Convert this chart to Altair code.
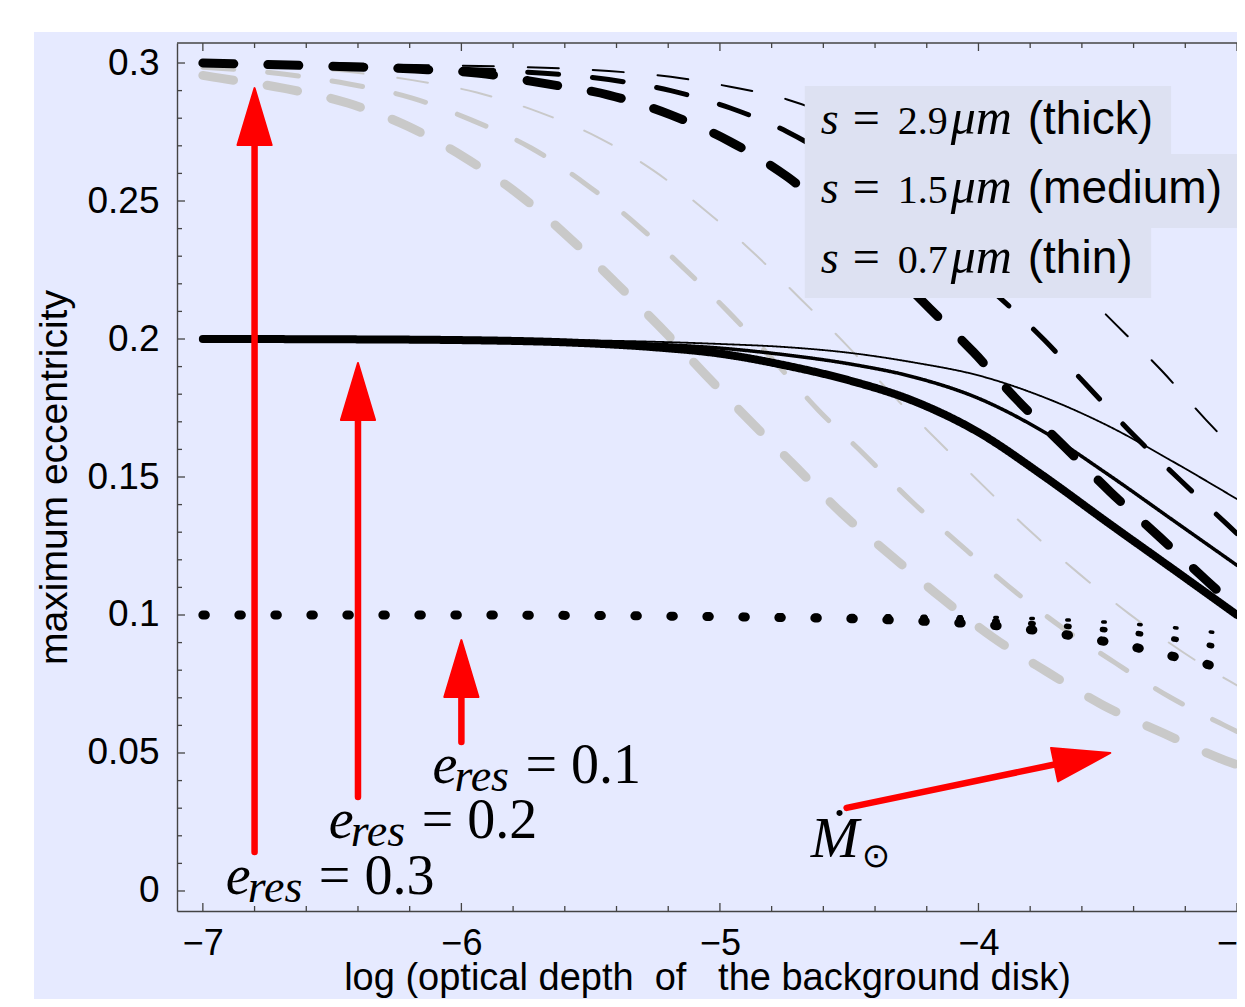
import math
import altair as alt
import pandas as pd

# ---------------- layout / style constants ----------------
W, H = 1060, 868
X_DOMAIN = [-7.1, -3.0]
Y_DOMAIN = [-0.00725, 0.30725]
BG = "#e6eaff"
BOX = "#dde1f2"
GRAY = "#c9c9c9"
RED = "#ff0000"
AXC = "#444444"
SANS = "Liberation Sans"
SERIF = "Liberation Serif"

# ---------------- data ----------------
# e_res = 0.3, black dashed (thick / medium / thin)
bd_thick_x = [-7.0, -6.5, -6.18, -5.93, -5.68, -5.43, -5.19, -4.96, -4.74, -4.5, -4.19, -4.02, -3.85, -3.67, -3.49, -3.30, -3.12, -3.0]
bd_thick_y = [0.3000, 0.2988, 0.2978, 0.2963, 0.2926, 0.2884, 0.2812, 0.2715, 0.2588, 0.2400, 0.2112, 0.1953, 0.1779, 0.1612, 0.1446, 0.1283, 0.1127, 0.1025]
bd_med_x = [-7.0, -6.5, -6.18, -5.93, -5.68, -5.43, -5.19, -4.96, -4.74, -4.5, -4.25, -4.0, -3.745, -3.575, -3.40, -3.22, -3.04, -3.0]
bd_med_y = [0.3000, 0.2995, 0.2985, 0.2975, 0.2963, 0.2940, 0.2900, 0.2837, 0.2751, 0.2616, 0.2430, 0.2220, 0.1996, 0.1826, 0.1652, 0.1489, 0.1330, 0.1295]
bd_thin_x = [-7.0, -6.5, -6.18, -5.93, -5.68, -5.43, -5.19, -4.96, -4.74, -4.5, -4.25, -4.0, -3.75, -3.47, -3.29, -3.12, -3.0]
bd_thin_y = [0.3000, 0.2997, 0.2993, 0.2989, 0.2983, 0.2971, 0.2950, 0.2914, 0.2868, 0.2780, 0.2650, 0.2500, 0.2310, 0.2054, 0.1884, 0.1707, 0.1590]

# e_res = 0.2, black solid
bs_x = [-7.0, -6.5, -6.0, -5.5, -5.25, -5.0, -4.75, -4.5, -4.25, -4.0, -3.75, -3.5, -3.25, -3.0]
bs_thick_y = [0.2000, 0.1999, 0.1996, 0.1984, 0.1970, 0.1947, 0.1905, 0.1850, 0.1775, 0.1662, 0.1505, 0.1335, 0.1168, 0.1000]
bs_med_y = [0.2000, 0.2000, 0.1998, 0.1990, 0.1981, 0.1967, 0.1943, 0.1910, 0.1862, 0.1785, 0.1665, 0.1510, 0.1345, 0.1180]
bs_thin_y = [0.2000, 0.2000, 0.1999, 0.1995, 0.1990, 0.1982, 0.1971, 0.1950, 0.1915, 0.1868, 0.1790, 0.1686, 0.1557, 0.1420]

# e_res = 0.1, black dotted
bo_large_x = [-7.0, -6.0, -5.5, -5.0, -4.78, -4.5, -4.36, -4.23, -4.09, -3.95, -3.81, -3.68, -3.54, -3.40, -3.27, -3.135, -3.0]
bo_large_y = [0.1000, 0.1000, 0.0998, 0.0994, 0.0991, 0.0987, 0.0983, 0.0978, 0.0972, 0.0963, 0.0948, 0.0931, 0.0909, 0.0884, 0.0855, 0.0826, 0.0788]
bo_med_x = [-7.0, -5.0, -4.5, -4.09, -3.95, -3.81, -3.68, -3.54, -3.40, -3.27, -3.135, -3.0]
bo_med_y = [0.1000, 0.0998, 0.0994, 0.0986, 0.0978, 0.0970, 0.0961, 0.0949, 0.0935, 0.0917, 0.0895, 0.0872]
bo_small_x = [-7.0, -4.5, -4.09, -3.81, -3.68, -3.54, -3.40, -3.27, -3.135, -3.0]
bo_small_y = [0.1000, 0.0998, 0.0994, 0.0988, 0.0983, 0.0976, 0.0967, 0.0957, 0.0942, 0.0927]

# gray dashed (thick / medium / thin)
gd_thick_x = [-7.0, -6.94, -6.69, -6.44, -6.21, -5.99, -5.78, -5.59, -5.41, -5.235, -5.058, -4.884, -4.71, -4.53, -4.34, -4.147, -3.946, -3.733, -3.52, -3.285, -3.07, -3.0]
gd_thick_y = [0.2955, 0.2946, 0.2909, 0.2855, 0.2772, 0.2659, 0.2525, 0.2373, 0.2210, 0.2047, 0.1873, 0.1703, 0.1540, 0.1370, 0.1217, 0.1065, 0.0920, 0.0793, 0.0674, 0.0572, 0.0482, 0.0457]
gd_med_x = [-7.0, -6.69, -6.44, -6.19, -5.96, -5.73, -5.52, -5.32, -5.14, -4.97, -4.79, -4.62, -4.44, -4.26, -4.07, -3.88, -3.68, -3.47, -3.26, -3.05, -3.0]
gd_med_y = [0.2985, 0.2960, 0.2925, 0.2873, 0.2793, 0.2692, 0.2562, 0.2413, 0.2257, 0.2101, 0.1920, 0.1743, 0.1580, 0.1413, 0.1254, 0.1101, 0.0957, 0.0826, 0.0703, 0.0601, 0.0578]
gd_thin_x = [-7.0, -6.69, -6.44, -6.19, -5.94, -5.70, -5.47, -5.255, -5.054, -4.865, -4.69, -4.51, -4.336, -4.16, -3.98, -3.80, -3.61, -3.417, -3.21, -3.03, -3.0]
gd_thin_y = [0.2995, 0.2985, 0.2968, 0.2938, 0.2893, 0.2822, 0.2730, 0.2609, 0.2464, 0.2308, 0.2147, 0.1978, 0.1801, 0.1634, 0.1467, 0.1304, 0.1149, 0.1004, 0.0866, 0.0761, 0.0745]

# axes ticks / labels
x_major = [-7, -6, -5, -4, -3]
x_minor = [-6.8, -6.6, -6.4, -6.2, -5.8, -5.6, -5.4, -5.2, -4.8, -4.6, -4.4, -4.2, -3.8, -3.6, -3.4, -3.2]
y_major = [0.0, 0.05, 0.1, 0.15, 0.2, 0.25, 0.3]
y_minor = [0.01, 0.02, 0.03, 0.04, 0.06, 0.07, 0.08, 0.09, 0.11, 0.12, 0.13, 0.14,
           0.16, 0.17, 0.18, 0.19, 0.21, 0.22, 0.23, 0.24, 0.26, 0.27, 0.28, 0.29]
x_title = "log (optical depth\u00a0\u00a0of\u00a0\u00a0\u00a0the background disk)"
y_title = "maximum eccentricity"

# legend (size key) boxes and texts
leg_x0 = [-4.672, -4.672, -4.672]
leg_x1 = [-3.255, -3.0, -3.332]
leg_ytop = [0.2917, 0.2670, 0.2402]
leg_ybot = [0.2670, 0.2402, 0.2149]
leg_anchor_x = [-4.610, -4.610, -4.610]
leg_anchor_y = [0.2743, 0.2493, 0.2239]
leg_sizes = ["2.9", "1.5", "0.7"]
leg_words = ["(thick)", "(medium)", "(thin)"]

# e_res labels
eres_x = [-6.911, -6.5135, -6.112]
eres_y = [-0.0011, 0.0192, 0.0391]
eres_val = ["0.3", "0.2", "0.1"]

# M_sun label
msun_x = [-4.649]
msun_y = [0.0123]

# red arrows: start, shaft end, tip
arr_x0 = [-6.8, -6.4, -6.0, -4.510]
arr_y0 = [0.0141, 0.0341, 0.0540, 0.0301]
arr_xs = [-6.8, -6.4, -6.0, -3.641]
arr_ys = [0.2750, 0.1760, 0.0750, 0.0471]
arr_xt = [-6.8, -6.4, -6.0, -3.490]
arr_yt = [0.2909, 0.1913, 0.0909, 0.0500]

# ---------------- chart ----------------
xs = alt.Scale(domain=X_DOMAIN, nice=False, zero=False)
ys = alt.Scale(domain=Y_DOMAIN, nice=False, zero=False)

AX = alt.Axis(values=x_major, format="d", ticks=False, grid=False, domainColor=AXC, domainWidth=1.4,
              labelFont=SANS, labelFontSize=36, labelColor="black", labelPadding=15,
              labelFlush=False, labelOverlap=False, labelBound=False,
              title=x_title, titleFont=SANS, titleFontSize=38, titleFontWeight="normal",
              titleColor="black", titlePadding=-2, zindex=1)
AY = alt.Axis(values=y_major, format=".2~f", ticks=False, grid=False, domainColor=AXC, domainWidth=1.4,
              labelFont=SANS, labelFontSize=37, labelColor="black", labelPadding=18,
              labelFlush=False, labelOverlap=False, labelBound=False,
              title=y_title, titleFont=SANS, titleFontSize=39, titleFontWeight="normal",
              titleColor="black", titlePadding=12, zindex=1)


def X(f="x"):
    return alt.X(f"{f}:Q", scale=xs, axis=AX)


def Y(f="y"):
    return alt.Y(f"{f}:Q", scale=ys, axis=AY)


one = pd.DataFrame({"k": [0]})
layers = []

# lavender page background
layers.append(alt.Chart(one).mark_rect(color=BG).encode(
    x=alt.value(-143), x2=alt.value(W + 60), y=alt.value(-11), y2=alt.value(H + 120)))


def curve(xv, yv, color, width, dash):
    df = pd.DataFrame({"x": xv, "y": yv})
    return alt.Chart(df).mark_line(color=color, strokeWidth=width, strokeDash=dash,
                                   strokeCap="round", strokeJoin="round",
                                   interpolate="monotone").encode(x=X(), y=Y())


DASH = [31, 34]
DOT = [2.5, 33.5]
# gray dashed
layers.append(curve(gd_thick_x, gd_thick_y, GRAY, 9, DASH))
layers.append(curve(gd_med_x, gd_med_y, GRAY, 5, DASH))
layers.append(curve(gd_thin_x, gd_thin_y, GRAY, 2, DASH))
# black dotted
layers.append(curve(bo_large_x, bo_large_y, "black", 9, DOT))
layers.append(curve(bo_med_x, bo_med_y, "black", 5.5, DOT))
layers.append(curve(bo_small_x, bo_small_y, "black", 3.5, DOT))
# black solid
layers.append(curve(bs_x, bs_thick_y, "black", 8, [1, 0]))
layers.append(curve(bs_x, bs_med_y, "black", 3.5, [1, 0]))
layers.append(curve(bs_x, bs_thin_y, "black", 1.8, [1, 0]))
# black dashed
layers.append(curve(bd_thick_x, bd_thick_y, "black", 9, DASH))
layers.append(curve(bd_med_x, bd_med_y, "black", 5, DASH))
layers.append(curve(bd_thin_x, bd_thin_y, "black", 2, DASH))

# legend boxes
leg_df = pd.DataFrame({"x": leg_x0, "x2": leg_x1, "y": leg_ytop, "y2": leg_ybot,
                       "ax": leg_anchor_x, "ay": leg_anchor_y,
                       "s": ["s"] * 3, "eq": ["="] * 3, "num": leg_sizes,
                       "mu": ["\u03bcm"] * 3, "word": leg_words})
layers.append(alt.Chart(leg_df).mark_rect(color=BOX).encode(
    x=X(), x2="x2:Q", y=Y(), y2="y2:Q"))


def text_layer(df, field, font, size, dx=0, dy=0, style="normal"):
    return alt.Chart(df).mark_text(align="left", baseline="alphabetic", font=font, fontSize=size,
                                   fontStyle=style, dx=dx, dy=dy, color="black").encode(
        x=X("ax"), y=Y("ay"), text=f"{field}:N")


layers.append(text_layer(leg_df, "s", SERIF, 46, 0, 0, "italic"))
layers.append(text_layer(leg_df, "eq", SERIF, 48, 32, 0))
layers.append(text_layer(leg_df, "num", SERIF, 40, 77, 0))
layers.append(text_layer(leg_df, "mu", SERIF, 50, 130, 0, "italic"))
layers.append(text_layer(leg_df, "word", SANS, 46, 207, 0))

# e_res labels
eres_df = pd.DataFrame({"ax": eres_x, "ay": eres_y, "e": ["e"] * 3, "res": ["res"] * 3,
                        "val": ["= " + v for v in eres_val]})
layers.append(text_layer(eres_df, "e", SERIF, 56, 0, 0, "italic"))
layers.append(text_layer(eres_df, "res", SERIF, 46, 22, 8, "italic"))
layers.append(text_layer(eres_df, "val", SERIF, 56, 93, 0))

# M-dot sun label
ms_df = pd.DataFrame({"ax": msun_x, "ay": msun_y, "m": ["\u1e40"], "sun": ["\u2299"]})
layers.append(text_layer(ms_df, "m", SERIF, 58, 0, 0, "italic"))
layers.append(alt.Chart(ms_df).mark_text(align="left", baseline="alphabetic", font="DejaVu Sans",
                                         fontSize=34, dx=51, dy=10, color="black").encode(
    x=X("ax"), y=Y("ay"), text="sun:N"))

# red arrows
px_per_x = W / (X_DOMAIN[1] - X_DOMAIN[0])
px_per_y = H / (Y_DOMAIN[1] - Y_DOMAIN[0])
angles = [math.degrees(math.atan2((xt - x0) * px_per_x, (yt - y0) * px_per_y))
          for x0, y0, xt, yt in zip(arr_x0, arr_y0, arr_xt, arr_yt)]
arr_df = pd.DataFrame({"x": arr_x0, "y": arr_y0, "x2": arr_xs, "y2": arr_ys,
                       "ax": arr_xt, "ay": arr_yt, "ang": angles})
layers.append(alt.Chart(arr_df).mark_rule(color=RED, strokeWidth=6.5, strokeCap="round").encode(
    x=X(), y=Y(), x2="x2:Q", y2="y2:Q"))
layers.append(alt.Chart(arr_df).mark_point(shape="M0,0L0.6,2L-0.6,2Z", size=3249, filled=True,
                                           fill=RED, stroke=RED, strokeWidth=2, strokeJoin="round",
                                           opacity=1).encode(
    x=X("ax"), y=Y("ay"), angle=alt.Angle("ang:Q", scale=None)))

# inward ticks and top frame
xmaj_df = pd.DataFrame({"x": x_major})
xmin_df = pd.DataFrame({"x": x_minor})
ymaj_df = pd.DataFrame({"y": y_major})
ymin_df = pd.DataFrame({"y": y_minor})
TK = dict(color=AXC, strokeWidth=1.3)
layers.append(alt.Chart(xmaj_df).mark_rule(**TK).encode(x=X(), y=alt.value(H), y2=alt.value(H - 8)))
layers.append(alt.Chart(xmin_df).mark_rule(**TK).encode(x=X(), y=alt.value(H), y2=alt.value(H - 5)))
layers.append(alt.Chart(xmaj_df).mark_rule(**TK).encode(x=X(), y=alt.value(0), y2=alt.value(8)))
layers.append(alt.Chart(xmin_df).mark_rule(**TK).encode(x=X(), y=alt.value(0), y2=alt.value(5)))
layers.append(alt.Chart(ymaj_df).mark_rule(**TK).encode(y=Y(), x=alt.value(0), x2=alt.value(8)))
layers.append(alt.Chart(ymin_df).mark_rule(**TK).encode(y=Y(), x=alt.value(0), x2=alt.value(5)))
layers.append(alt.Chart(one).mark_rule(color=AXC, strokeWidth=1.4).encode(
    x=alt.value(0), x2=alt.value(W), y=alt.value(0)))

chart = alt.layer(*layers).properties(
    width=W, height=H,
    padding={"left": 169, "top": 35, "right": 0, "bottom": 88},
    autosize=alt.AutoSizeParams(type="none"),
    background="white",
).configure_view(stroke=None)

chart.save("out.html", embed_options={"renderer": "svg", "actions": False})
